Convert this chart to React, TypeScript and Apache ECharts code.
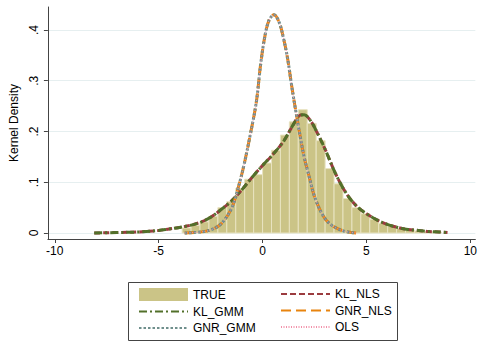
import React, { useEffect, useRef } from "react";
import * as echarts from "echarts";

// Axis ticks
const xTicks = [-10, -5, 0, 5, 10];
const yTicks = [0, 0.1, 0.2, 0.3, 0.4];
const yTickLabels = ["0", ".1", ".2", ".3", ".4"];

// Histogram of the true values (left edge of each bin, density)
const binWidth = 0.43;
const binLeft = [
  -3.87, -3.44, -3.01, -2.58, -2.15, -1.72, -1.29, -0.86, -0.43, 0.0,
  0.43, 0.86, 1.29, 1.72, 2.15, 2.58, 3.01, 3.44, 3.87, 4.3,
  4.73, 5.16, 5.59, 6.02, 6.45, 6.88, 7.31, 7.74, 8.17,
];
const trueDensity = [
  0.01, 0.015, 0.022, 0.033, 0.05, 0.062, 0.088, 0.106, 0.115, 0.138,
  0.163, 0.193, 0.219, 0.243, 0.216, 0.182, 0.127, 0.097, 0.068, 0.05,
  0.038, 0.027, 0.019, 0.014, 0.009, 0.006, 0.004, 0.003, 0.002,
];

// KL estimators: kernel density
const klX = [
  -8.1, -7.0, -6.0, -5.0, -4.5, -4.0, -3.5, -3.0, -2.5, -2.0, -1.5, -1.0,
  -0.5, 0.0, 0.5, 1.0, 1.5, 1.8, 2.0, 2.3, 2.6, 3.0, 3.5, 4.0, 4.5, 5.0,
  5.5, 6.0, 6.5, 7.0, 7.5, 8.0, 8.5, 8.9,
];
const klGmm = [
  0.0, 0.001, 0.002, 0.005, 0.008, 0.011, 0.015, 0.021, 0.031, 0.046, 0.063, 0.085,
  0.11, 0.133, 0.155, 0.18, 0.215, 0.232, 0.233, 0.222, 0.2, 0.166, 0.118, 0.08, 0.054, 0.038,
  0.026, 0.017, 0.011, 0.007, 0.005, 0.003, 0.002, 0.001,
];
const klNls = [
  0.0, 0.001, 0.002, 0.005, 0.008, 0.011, 0.015, 0.021, 0.031, 0.046, 0.063, 0.085,
  0.11, 0.133, 0.155, 0.18, 0.215, 0.232, 0.233, 0.222, 0.2, 0.166, 0.118, 0.08, 0.054, 0.038,
  0.026, 0.017, 0.011, 0.007, 0.005, 0.003, 0.002, 0.001,
];

// GNR estimators and OLS: kernel density
const gnrX = [
  -3.75, -3.0, -2.5, -2.0, -1.5, -1.2, -0.9, -0.6, -0.3, -0.1, 0.1, 0.3, 0.55,
  0.8, 1.0, 1.2, 1.4, 1.6, 1.8, 2.0, 2.25, 2.5, 2.9, 3.3, 3.9, 4.5,
];
const gnrGmm = [
  0.0, 0.002, 0.006, 0.018, 0.048, 0.085, 0.133, 0.192, 0.258, 0.33, 0.385, 0.418, 0.43,
  0.415, 0.385, 0.345, 0.29, 0.24, 0.193, 0.15, 0.11, 0.072, 0.035, 0.016, 0.004, 0.0,
];
const gnrNls = [
  0.0, 0.002, 0.006, 0.018, 0.048, 0.085, 0.133, 0.192, 0.258, 0.33, 0.385, 0.418, 0.43,
  0.415, 0.385, 0.345, 0.29, 0.24, 0.193, 0.15, 0.11, 0.072, 0.035, 0.016, 0.004, 0.0,
];
const ols = [
  0.0, 0.002, 0.006, 0.018, 0.048, 0.085, 0.133, 0.192, 0.258, 0.33, 0.385, 0.418, 0.43,
  0.415, 0.385, 0.345, 0.29, 0.24, 0.193, 0.15, 0.11, 0.072, 0.035, 0.016, 0.004, 0.0,
];

const FONT = "'Liberation Sans', Arial, Helvetica, sans-serif";
const HIST_FILL = "#cbc487";

const zip = (xs: number[], ys: number[]) => xs.map((x, i) => [x, ys[i]]);

const lineSeries = (
  name: string,
  xs: number[],
  ys: number[],
  color: string,
  width: number,
  dash: number[]
) => ({
  name,
  type: "line",
  data: zip(xs, ys),
  symbol: "none",
  smooth: 0.35,
  clip: false,
  lineStyle: { color, width, type: dash, cap: "butt" },
  itemStyle: { color },
  emphasis: { disabled: true },
});

export default function App() {
  const ref = useRef<HTMLDivElement>(null);

  useEffect(() => {
    if (!ref.current) return;
    const chart = echarts.init(ref.current, undefined, { renderer: "svg" });

    const legendCommon = {
      orient: "vertical",
      top: 283,
      itemWidth: 49,
      itemHeight: 13,
      itemGap: 4.5,
      selectedMode: false,
      // line keys only: hide the marker drawn on top of the line sample
      itemStyle: { opacity: 0 },
      textStyle: { fontFamily: FONT, fontSize: 12, color: "#000" },
    };

    chart.setOption({
      animation: false,
      backgroundColor: "#fff",
      grid: { left: 44, right: 0, top: 7, bottom: 104 },
      xAxis: {
        type: "value",
        min: -10.33,
        max: 10.24,
        axisLine: { show: true, onZero: false, lineStyle: { color: "#444", width: 1 } },
        axisTick: { show: true, length: 4, customValues: xTicks, lineStyle: { color: "#444" } },
        axisLabel: {
          customValues: xTicks,
          margin: 6,
          fontFamily: FONT,
          fontSize: 12,
          color: "#000",
          formatter: (v: number) => String(v),
        },
        splitLine: { show: false },
      },
      yAxis: {
        type: "value",
        min: -0.0118,
        max: 0.4453,
        name: "Kernel Density",
        nameLocation: "middle",
        nameGap: 23,
        nameTextStyle: { fontFamily: FONT, fontSize: 12, color: "#000" },
        axisLine: { show: true, onZero: false, lineStyle: { color: "#444", width: 1 } },
        axisTick: { show: true, length: 4, customValues: yTicks, lineStyle: { color: "#444" } },
        axisLabel: {
          customValues: yTicks,
          rotate: 90,
          margin: 8,
          fontFamily: FONT,
          fontSize: 12,
          color: "#000",
          formatter: (v: number) => {
            const i = yTicks.findIndex((t) => Math.abs(t - v) < 1e-9);
            return i >= 0 ? yTickLabels[i] : "";
          },
        },
        splitLine: { show: true, lineStyle: { color: "#e6eff0", width: 1 } },
      },
      legend: [
        {
          ...legendCommon,
          left: 133,
          data: [
            { name: "TRUE", icon: "rect", itemStyle: { color: HIST_FILL, opacity: 1, borderWidth: 0 } },
            "KL_GMM",
            "GNR_GMM",
          ],
        },
        {
          ...legendCommon,
          left: 275,
          data: ["KL_NLS", "GNR_NLS", "OLS"],
        },
      ],
      graphic: [
        {
          type: "rect",
          shape: { x: 128.5, y: 282.5, width: 269, height: 58 },
          style: { fill: "none", stroke: "#444", lineWidth: 1 },
          silent: true,
        },
      ],
      series: [
        {
          name: "TRUE",
          type: "custom",
          data: binLeft.map((l, i) => [l, l + binWidth, trueDensity[i]]),
          encode: { x: [0, 1], y: 2 },
          itemStyle: { color: HIST_FILL },
          renderItem: (_params: any, api: any) => {
            const p0 = api.coord([api.value(0), api.value(2)]);
            const p1 = api.coord([api.value(1), 0]);
            return {
              type: "rect",
              shape: { x: p0[0], y: p0[1], width: p1[0] - p0[0], height: p1[1] - p0[1] },
              style: { fill: HIST_FILL, stroke: "#e8e3c0", lineWidth: 1 },
            };
          },
        },
        lineSeries("KL_NLS", klX, klNls, "#9b3b3f", 3, [6, 3]),
        lineSeries("KL_GMM", klX, klGmm, "#52702a", 3, [8, 3, 2, 3]),
        lineSeries("GNR_NLS", gnrX, gnrNls, "#e8840e", 3, [10, 5]),
        lineSeries("GNR_GMM", gnrX, gnrGmm, "#6f8f8c", 3, [2.5, 2]),
        lineSeries("OLS", gnrX, ols, "#f28fa8", 1, [1, 1.5]),
      ],
    });

    return () => chart.dispose();
  }, []);

  return (
    <div
      ref={ref}
      style={{ position: "absolute", left: 0, top: 0, width: 480, height: 343 }}
    />
  );
}
